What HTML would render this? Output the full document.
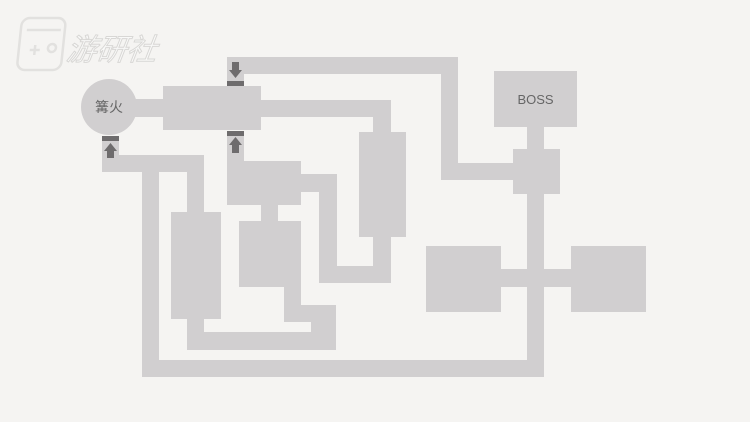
<!DOCTYPE html>
<html><head><meta charset="utf-8"><style>
body{margin:0;width:750px;height:422px;background:#f5f4f2;overflow:hidden;position:relative;font-family:"Liberation Sans","Noto Sans CJK SC",sans-serif}
.t{position:absolute;color:#666;font-size:13px}
</style></head><body>
<svg width="750" height="422" style="position:absolute;left:0;top:0">
<g fill="#d1cfd0">
<circle cx="109" cy="107" r="28"/>
<rect x="130" y="99" width="40" height="18"/>
<rect x="163" y="86" width="98" height="44"/>
<rect x="261" y="100" width="130" height="17"/>
<rect x="373" y="100" width="18" height="40"/>
<rect x="359" y="132" width="47" height="105"/>
<rect x="373" y="230" width="18" height="53"/>
<rect x="319" y="266" width="72" height="17"/>
<rect x="319" y="174" width="18" height="109"/>
<rect x="295" y="174" width="42" height="18"/>
<rect x="227" y="161" width="74" height="44"/>
<rect x="227" y="135" width="17" height="30"/>
<rect x="261" y="200" width="17" height="25"/>
<rect x="239" y="221" width="62" height="66"/>
<rect x="284" y="280" width="17" height="42"/>
<rect x="284" y="305" width="52" height="17"/>
<rect x="311" y="305" width="25" height="45"/>
<rect x="187" y="332" width="149" height="18"/>
<rect x="187" y="310" width="17" height="40"/>
<rect x="171" y="212" width="50" height="107"/>
<rect x="187" y="155" width="17" height="60"/>
<rect x="102" y="155" width="102" height="17"/>
<rect x="102" y="136" width="17" height="36"/>
<rect x="142" y="155" width="17" height="222"/>
<rect x="142" y="360" width="402" height="17"/>
<rect x="527" y="127" width="17" height="250"/>
<rect x="494" y="71" width="83" height="56"/>
<rect x="513" y="149" width="47" height="45"/>
<rect x="441" y="163" width="80" height="17"/>
<rect x="441" y="57" width="17" height="123"/>
<rect x="227" y="57" width="231" height="17"/>
<rect x="227" y="57" width="17" height="30"/>
<rect x="426" y="246" width="75" height="66"/>
<rect x="571" y="246" width="75" height="66"/>
<rect x="500" y="269" width="72" height="18"/>
</g>
<g fill="#6e6c6d">
<rect x="227" y="81" width="17" height="5"/>
<rect x="227" y="131" width="17" height="5"/>
<rect x="102" y="136" width="17" height="5"/>
<polygon points="232,62 239,62 239,70 242,70 235.5,78 229,70 232,70"/>
<polygon points="235.5,137 242,145 239,145 239,153 232,153 232,145 229,145"/>
<polygon points="110.5,143 117,151 114,151 114,158 107,158 107,151 104,151"/>
</g>
<g fill="none" stroke="#e2e1df" stroke-width="2.5" transform="skewX(-6) translate(6,0)">
<rect x="18" y="18" width="44" height="52" rx="8"/>
<path d="M24 30 H58"/>
<path d="M29 50 h10 M34 45 v10"/>
<circle cx="51" cy="48" r="4"/>
</g>
<text x="66" y="60" font-size="30" fill="#f9f9f8" stroke="#d8d7d5" stroke-width="1" font-style="italic" font-family="Noto Sans CJK SC,sans-serif" transform="skewX(-8) translate(8,0)">游研社</text>
</svg>
<div class="t" style="left:95px;top:97px;font-size:14px">篝火</div>
<div class="t" style="left:494px;top:92px;width:83px;text-align:center">BOSS</div>
</body></html>
